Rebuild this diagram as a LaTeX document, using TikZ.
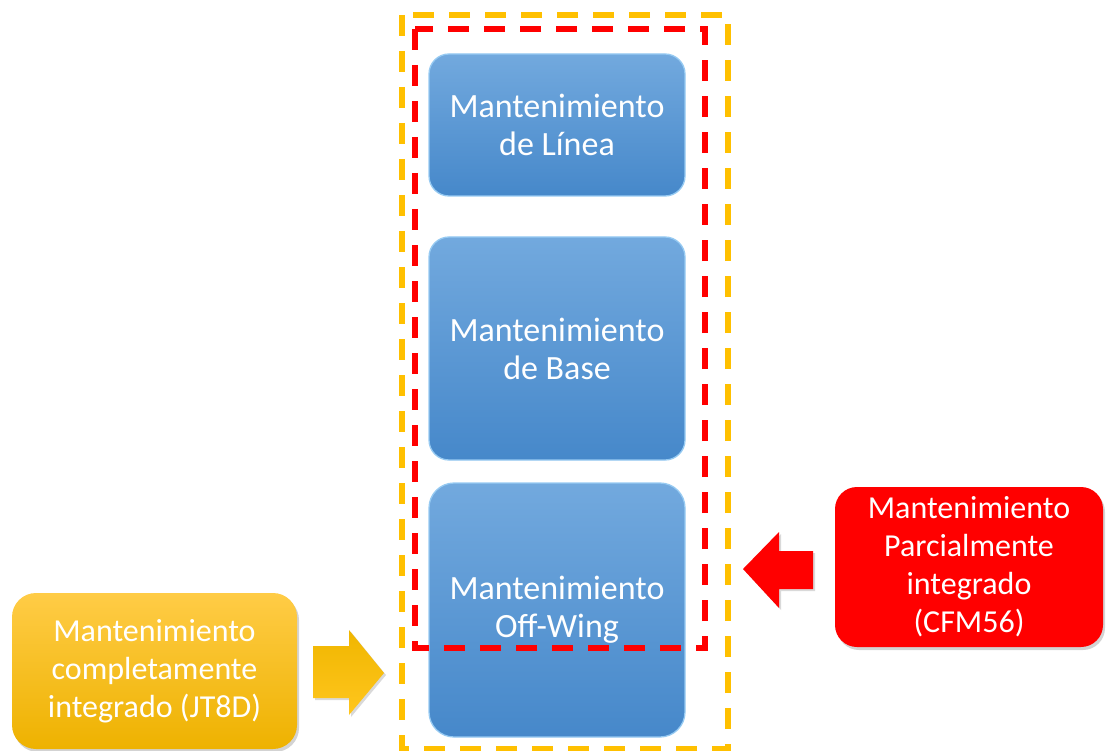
\documentclass[tikz,border=0pt]{standalone}
\usepackage{fontspec}
\setmainfont{Carlito}
\usetikzlibrary{shadows}
\definecolor{blueTop}{RGB}{114,169,222}
\definecolor{blueBot}{RGB}{70,136,202}
\definecolor{blueEdge}{RGB}{150,202,242}
\definecolor{goldTop}{RGB}{255,204,70}
\definecolor{goldBot}{RGB}{238,178,0}
\definecolor{arrowGoldTop}{RGB}{240,182,0}
\definecolor{arrowGoldBot}{RGB}{255,198,30}
\definecolor{frameGold}{RGB}{255,192,0}
\definecolor{frameRed}{RGB}{255,0,0}
\definecolor{boxRed}{RGB}{255,0,0}

\begin{document}
\begin{tikzpicture}[x=1pt,y=-1pt,
  bluebox/.style={rounded corners=20pt, top color=blueTop, bottom color=blueBot,
    draw=blueEdge, line width=1.3pt, text=white, align=center,
    font=\fontsize{34}{38}\selectfont, inner sep=0pt, minimum width=256pt},
  sidebox/.style={rounded corners=24pt, text=white, align=center,
    font=\fontsize{32}{38}\selectfont, inner sep=0pt,
    drop shadow={opacity=0.35, shadow xshift=2pt, shadow yshift=-3pt}},
  frame/.style={line width=5.2pt, dash pattern=on 21pt off 15pt},
]
\useasboundingbox (0,0) rectangle (1107,751);

% outer (gold) and inner (red) groupings
\draw[frame, frameGold] (402,15) rectangle (728,749);

% maintenance levels
\node[bluebox, minimum height=142pt] (linea) at (557,125) {Mantenimiento\\de Línea};
\node[bluebox, minimum height=223pt] (base) at (557,348.5) {Mantenimiento\\de Base};
\node[bluebox, minimum height=254pt, rounded corners=25pt] (offwing) at (557,610) {Mantenimiento\\Off-Wing};

\draw[frame, frameRed, line width=5.8pt] (415,29) rectangle (705,648);

% side labels
\node[sidebox, top color=goldTop, bottom color=goldBot, minimum width=285pt, minimum height=156pt]
  (jt8d) at (154.5,671) {Mantenimiento\\completamente\\integrado (JT8D)};
\node[sidebox, fill=boxRed, minimum width=268pt, minimum height=160pt, rounded corners=22pt]
  (cfm56) at (969,567) {Mantenimiento\\Parcialmente\\integrado\\(CFM56)};

% block arrows
\path[top color=arrowGoldTop, bottom color=arrowGoldBot,
      drop shadow={opacity=0.3, shadow xshift=2pt, shadow yshift=-2pt}]
  (313,646) -- (349,646) -- (349,630) -- (384,673) -- (349,715) -- (349,698) -- (313,698) -- cycle;
\path[fill=boxRed, drop shadow={opacity=0.3, shadow xshift=2pt, shadow yshift=-2pt}]
  (813,551) -- (779,551) -- (779,532) -- (743,569) -- (779,608) -- (779,589) -- (813,589) -- cycle;
\end{tikzpicture}
\end{document}
